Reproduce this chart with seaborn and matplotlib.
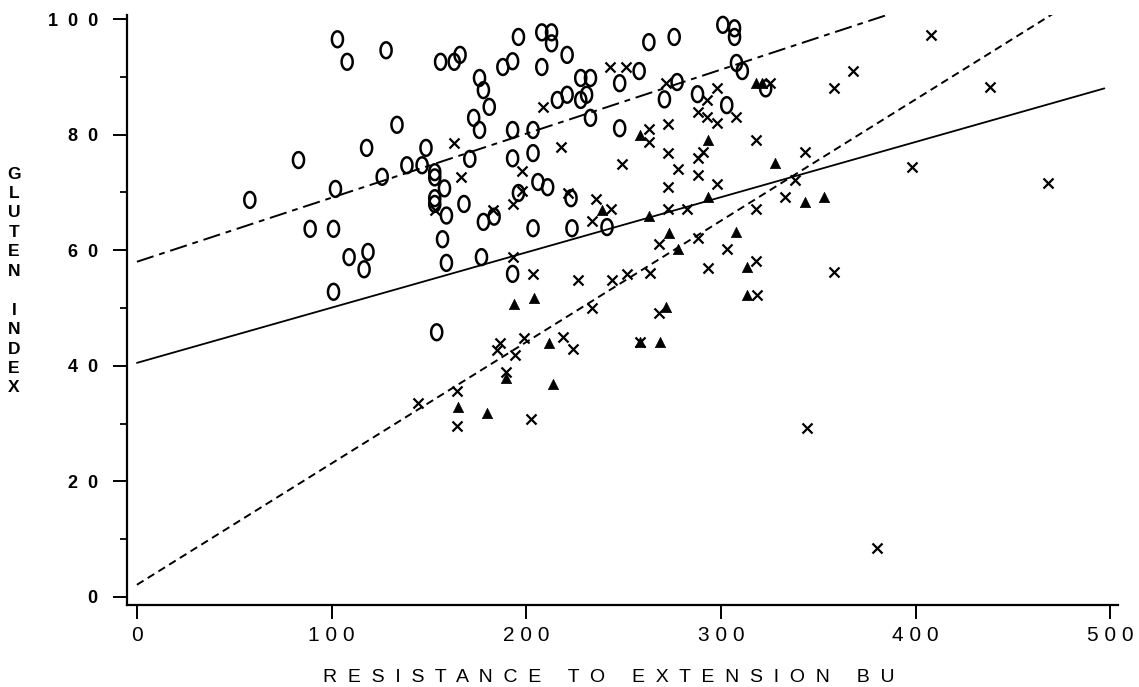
import numpy as np
import matplotlib
matplotlib.use("Agg")
import matplotlib.pyplot as plt
import seaborn as sns
from matplotlib.path import Path

# ---- data ----
circle_x = [58, 83, 89, 101, 102, 101, 103, 108, 128, 133.6, 118, 126, 138.7, 146.5, 148.5,
            153, 153, 153, 153, 158, 159, 157, 159, 168, 154, 109, 118.7, 116.7, 156, 163,
            166, 176, 178, 181, 173, 176, 171, 188, 193, 196, 208, 213, 213, 208, 221,
            228, 233, 231, 228, 221, 216, 233, 193, 203.5, 193, 203.5, 206, 211, 196, 223,
            178, 183.5, 203.5, 223.5, 177, 193, 248, 248, 258, 263, 276, 277.5, 271, 288,
            303, 301, 307, 307, 308, 311, 241.5, 323]
circle_y = [68.7, 75.6, 63.7, 63.7, 70.6, 52.8, 96.5, 92.6, 94.6, 81.7, 77.7, 72.7, 74.7, 74.7, 77.7,
            73.5, 72.6, 69, 68, 70.7, 66, 61.9, 57.8, 68, 45.8, 58.8, 59.7, 56.7, 92.6, 92.6,
            93.8, 89.8, 87.7, 84.8, 82.9, 80.8, 75.8, 91.7, 92.7, 96.9, 97.7, 97.7, 95.8, 91.7, 93.8,
            89.8, 89.8, 86.9, 86, 86.9, 86, 82.9, 80.8, 80.8, 75.9, 76.8, 71.8, 70.9, 69.9, 69,
            64.9, 65.8, 63.8, 63.8, 58.8, 55.9, 88.9, 81.1, 91, 96, 96.9, 89.1, 86.1, 87,
            85.1, 99, 98.4, 96.9, 92.4, 91, 64, 88]

cross_x = [163, 166.5, 153, 183, 198, 198, 193, 208.6, 218, 221.5, 236, 234, 193, 203.5, 226.6,
           234, 186.5, 199, 219, 243, 251, 272, 298, 293, 288, 293, 298, 308, 273, 263,
           263, 318, 273, 291, 288, 249, 278, 288, 298, 273, 343, 338, 333, 318, 243.6,
           273, 282.6, 268, 288, 303, 244, 252, 263.6, 293.4, 318, 358, 268, 318.6, 358, 368,
           258.5, 408, 438, 398, 468, 185, 194, 224, 189.6, 164.4, 164.4, 202.5, 344, 380,
           144.4, 325]
cross_y = [78.5, 72.7, 67, 67, 73.7, 70.3, 68, 84.8, 77.9, 69.9, 68.8, 65, 58.8, 55.9, 54.8,
           50, 43.9, 44.8, 45, 91.7, 91.7, 88.9, 88, 86, 83.9, 83, 82, 83, 81.8, 80.9,
           78.7, 79, 76.8, 77, 75.9, 74.9, 74, 73, 71.4, 71, 77, 72.1, 69.2, 67.1, 67.1,
           67.1, 67.1, 61, 62.1, 60.2, 54.8, 55.9, 56, 57, 58.1, 56.2, 49.1, 52.2, 88.1, 91,
           44.1, 97.2, 88.2, 74.4, 71.6, 42.7, 41.8, 42.9, 38.9, 35.6, 29.6, 30.8, 29.2, 8.5,
           33.6, 89]

tri_x = [193.7, 204, 211.7, 258.5, 293.4, 318, 321, 328, 293.4, 239, 263, 273.4, 278, 308,
         313.5, 313.5, 343, 353, 272, 258.5, 268.8, 189.6, 214, 165, 180]
tri_y = [50.7, 51.7, 43.9, 79.9, 79, 89, 89, 75.1, 69.2, 67, 66, 63, 60.2, 63.1,
         57.1, 52.2, 68.3, 69.2, 50.2, 44.1, 44.1, 37.9, 36.8, 32.9, 31.8]

# fitted lines (end points)
upper_line_x = [0, 388]
upper_line_y = [58.0, 101.0]
mid_line_x = [0, 497]
mid_line_y = [40.5, 88.0]
low_line_x = [0, 471]
low_line_y = [2.1, 101.0]

x_ticks = [0, 100, 200, 300, 400, 500]
x_tick_labels = ["0", "1 0 0", "2 0 0", "3 0 0", "4 0 0", "5 0 0"]
y_ticks = [0, 20, 40, 60, 80, 100]
y_tick_labels = ["0", "2  0", "4  0", "6  0", "8  0", "1  0  0"]
y_minor = [10, 30, 50, 70, 90]

x_title_words = ["RESISTANCE", "TO", "EXTENSION", "BU"]
y_title_words = ["GLUTEN", "INDEX"]

# ---- drawing ----
sns.set_style("ticks")
plt.rcParams['font.family'] = ['Liberation Sans', 'DejaVu Sans']

W, H = 1139, 687
fig = plt.figure(figsize=(W / 100, H / 100), dpi=100)
ax = fig.add_axes([127 / W, 1 - 605 / H, (1118 - 127) / W, (605 - 15) / H])

theta = np.linspace(0, 2 * np.pi, 73)
ellipse = Path(np.column_stack([0.70 * np.cos(theta), np.sin(theta)]))

sns.scatterplot(x=circle_x, y=circle_y, marker=ellipse, s=130, facecolor='none',
                edgecolor='black', linewidth=1.8, ax=ax, zorder=3)
sns.scatterplot(x=cross_x, y=cross_y, marker='x', s=52, color='black',
                linewidth=1.6, ax=ax, zorder=3)
sns.scatterplot(x=tri_x, y=tri_y, marker='^', s=55, color='black',
                edgecolor='black', linewidth=0.5, ax=ax, zorder=3)

sns.lineplot(x=upper_line_x, y=upper_line_y, color='black', linewidth=1.4,
             linestyle=(0, (9, 3, 3, 3)), ax=ax)
sns.lineplot(x=mid_line_x, y=mid_line_y, color='black', linewidth=1.3,
             linestyle='-', ax=ax)
sns.lineplot(x=low_line_x, y=low_line_y, color='black', linewidth=1.4,
             linestyle=(0, (4, 2.5)), ax=ax)

ax.set_xlim(-5.1, 504)
ax.set_ylim(-1.4, 100.7)
ax.set_xticks(x_ticks)
ax.set_xticklabels(x_tick_labels, fontsize=15)
ax.set_yticks(y_ticks)
ax.set_yticklabels(y_tick_labels, fontweight='bold', fontsize=13)
ax.set_yticks(y_minor, minor=True)

ax.tick_params(axis='both', which='major', direction='out', length=10, width=1.4,
               color='black', labelcolor='black')
ax.tick_params(axis='x', pad=5)
ax.tick_params(axis='y', pad=11)
ax.tick_params(axis='y', which='minor', direction='out', length=5, width=1.3, color='black')
for side in ['left', 'bottom']:
    ax.spines[side].set_linewidth(1.6)
    ax.spines[side].set_color('black')
sns.despine(ax=ax, top=True, right=True)
ax.set_xlabel("")
ax.set_ylabel("")

x_title = "     ".join("  ".join(w) for w in x_title_words)
y_title = "\n\n".join("\n".join(w) for w in y_title_words)
fig.text(609 / W, 1 - 677 / H, x_title, ha='center', va='center', fontsize=14,
         color='black')
fig.text(14 / W, 1 - 281 / H, y_title, ha='center', va='center', fontsize=12.5,
         fontweight='bold', linespacing=1.37,
         multialignment='center', color='black')

fig.savefig("out.png", dpi=100, facecolor='white')
